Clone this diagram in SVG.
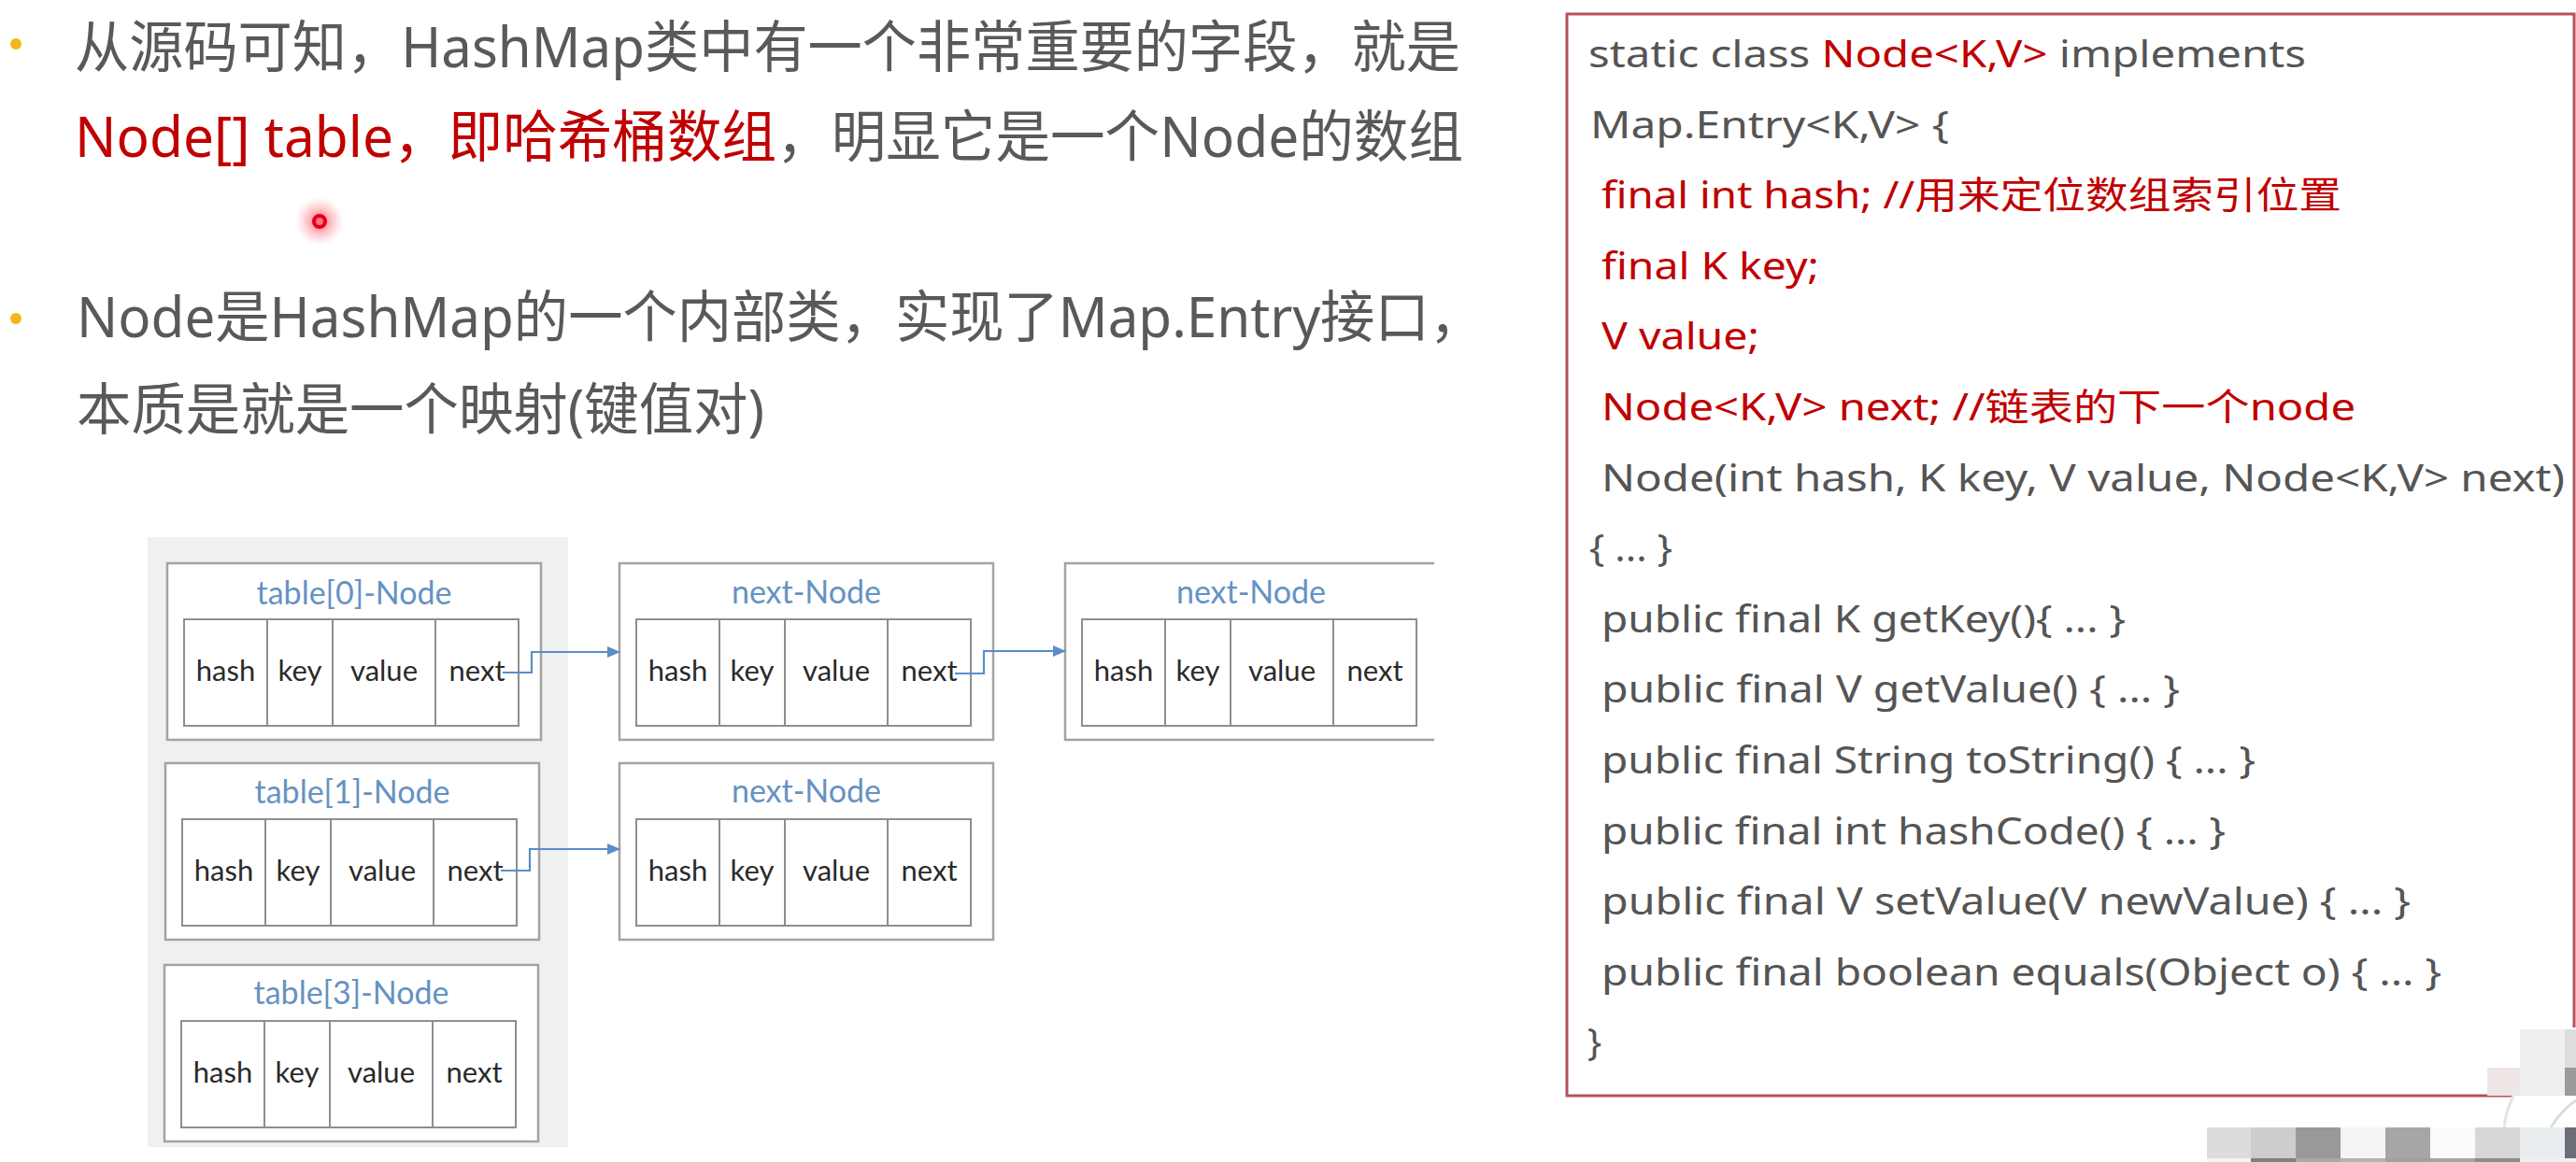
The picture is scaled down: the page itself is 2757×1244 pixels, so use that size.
<svg xmlns="http://www.w3.org/2000/svg" width="2757" height="1244" viewBox="0 0 2757 1244">
<style>
.t{font-family:"Noto Sans","Noto Sans CJK SC",sans-serif;font-size:60px;fill:#595959}
.code{font-family:"Noto Sans","Noto Sans CJK SC",sans-serif;font-size:40px;fill:#555555}
.r,.code.r{fill:#c00000}
.panel{fill:#f0f0f0}
.outer{fill:#fff;stroke:#a3a3a3;stroke-width:2.5}
.inner{fill:#fff;stroke:#8e8e8e;stroke-width:2}
.dv{stroke:#8e8e8e;stroke-width:2}
.ttl{font-family:Lato,"Liberation Sans",sans-serif;font-size:34px;fill:#6592c3;text-anchor:middle}
.cell{font-family:Lato,"Liberation Sans",sans-serif;font-size:31px;fill:#2a2a2a;text-anchor:middle}
.conn{fill:none;stroke:#5b8cc8;stroke-width:2.2}
.bul{fill:#f3b71a}
</style>
<defs>
<marker id="ah" markerUnits="userSpaceOnUse" markerWidth="14" markerHeight="12" refX="13" refY="6" orient="auto">
<path d="M0,0 L14,6 L0,12 z" fill="#5b8cc8"/>
</marker>
<radialGradient id="glow">
<stop offset="0" stop-color="#ff1030" stop-opacity="0.9"/>
<stop offset="0.35" stop-color="#ff4050" stop-opacity="0.45"/>
<stop offset="1" stop-color="#ff8090" stop-opacity="0"/>
</radialGradient>
<g id="row">
<rect class="inner" x="18" y="60" width="358" height="114"/>
<line class="dv" x1="107" y1="60" x2="107" y2="174"/>
<line class="dv" x1="177" y1="60" x2="177" y2="174"/>
<line class="dv" x1="287" y1="60" x2="287" y2="174"/>
<text class="cell" x="62.5" y="126">hash</text>
<text class="cell" x="142" y="126">key</text>
<text class="cell" x="232" y="126">value</text>
<text class="cell" x="331.5" y="126">next</text>
</g>
</defs>
<rect width="2757" height="1244" fill="#ffffff"/>

<g id="bullets">
<circle class="bul" cx="17" cy="47" r="6"/>
<circle class="bul" cx="17" cy="341" r="6"/>
</g>
<g id="intro">
<text class="t" x="80" y="72" textLength="1483" lengthAdjust="spacingAndGlyphs">从源码可知，HashMap类中有一个非常重要的字段，就是</text>
<text class="t" x="80" y="168" textLength="1486" lengthAdjust="spacingAndGlyphs"><tspan class="r">Node[] table，即哈希桶数组</tspan>，明显它是一个Node的数组</text>
<text class="t" x="82" y="361" textLength="1506" lengthAdjust="spacingAndGlyphs">Node是HashMap的一个内部类，实现了Map.Entry接口，</text>
<text class="t" x="82" y="460" textLength="736" lengthAdjust="spacingAndGlyphs">本质是就是一个映射(键值对)</text>
</g>
<g id="pointer">
<circle cx="342" cy="237" r="26" fill="url(#glow)"/>
<circle cx="342" cy="237" r="6" fill="#ff7080" stroke="#e0001e" stroke-width="4"/>
</g>

<rect id="table-panel" class="panel" x="158" y="575" width="450" height="653"/>

<g id="table0-node" transform="translate(179,603)">
<rect class="outer" x="0" y="0" width="400" height="189"/>
<text class="ttl" x="200" y="44">table[0]-Node</text>
<use href="#row"/>
</g>
<g id="table1-node" transform="translate(177,817)">
<rect class="outer" x="0" y="0" width="400" height="189"/>
<text class="ttl" x="200" y="43">table[1]-Node</text>
<use href="#row"/>
</g>
<g id="table3-node" transform="translate(176,1033)">
<rect class="outer" x="0" y="0" width="400" height="189"/>
<text class="ttl" x="200" y="42">table[3]-Node</text>
<use href="#row"/>
</g>
<g id="next-node-1" transform="translate(663,603)">
<rect class="outer" x="0" y="0" width="400" height="189"/>
<text class="ttl" x="200" y="43">next-Node</text>
<use href="#row"/>
</g>
<g id="next-node-2" transform="translate(663,817)">
<rect class="outer" x="0" y="0" width="400" height="189"/>
<text class="ttl" x="200" y="42">next-Node</text>
<use href="#row"/>
</g>
<g id="next-node-3" transform="translate(1140,603)">
<path class="outer" fill="none" d="M395,0 H0 V189 H395"/>
<text class="ttl" x="199" y="43">next-Node</text>
<use href="#row"/>
</g>

<g id="connectors">
<path class="conn" d="M538,720 H569 V698 H663" marker-end="url(#ah)"/>
<path class="conn" d="M536,932 H567 V909 H663" marker-end="url(#ah)"/>
<path class="conn" d="M1022,721 H1053 V697 H1140" marker-end="url(#ah)"/>
</g>

<g id="code-box">
<rect x="1677" y="15" width="1078" height="1158" fill="#ffffff"/>
<path d="M2688,1173 H1677 V15 H2755 V1100" fill="none" stroke="#b3525a" stroke-width="3"/>
<text class="code" x="1700" y="72" textLength="768" lengthAdjust="spacingAndGlyphs">static class <tspan class="r">Node&lt;K,V&gt;</tspan> implements</text>
<text class="code" x="1702" y="147.6" textLength="384" lengthAdjust="spacingAndGlyphs">Map.Entry&lt;K,V&gt; {</text>
<text class="code r" x="1714" y="223.2" textLength="792" lengthAdjust="spacingAndGlyphs">final int hash; //用来定位数组索引位置</text>
<text class="code r" x="1714" y="298.8" textLength="233" lengthAdjust="spacingAndGlyphs">final K key;</text>
<text class="code r" x="1714" y="374.4" textLength="169" lengthAdjust="spacingAndGlyphs">V value;</text>
<text class="code r" x="1714" y="450" textLength="807" lengthAdjust="spacingAndGlyphs">Node&lt;K,V&gt; next; //链表的下一个node</text>
<text class="code" x="1714" y="525.6" textLength="1031" lengthAdjust="spacingAndGlyphs">Node(int hash, K key, V value, Node&lt;K,V&gt; next)</text>
<text class="code" x="1701" y="601.2" textLength="89" lengthAdjust="spacingAndGlyphs">{ ... }</text>
<text class="code" x="1714" y="676.8" textLength="561" lengthAdjust="spacingAndGlyphs">public final K getKey(){ ... }</text>
<text class="code" x="1714" y="752.4" textLength="619" lengthAdjust="spacingAndGlyphs">public final V getValue() { ... }</text>
<text class="code" x="1714" y="828" textLength="700" lengthAdjust="spacingAndGlyphs">public final String toString() { ... }</text>
<text class="code" x="1714" y="903.6" textLength="668" lengthAdjust="spacingAndGlyphs">public final int hashCode() { ... }</text>
<text class="code" x="1714" y="979.2" textLength="866" lengthAdjust="spacingAndGlyphs">public final V setValue(V newValue) { ... }</text>
<text class="code" x="1714" y="1054.8" textLength="899" lengthAdjust="spacingAndGlyphs">public final boolean equals(Object o) { ... }</text>
<text class="code" x="1699" y="1130.4">}</text>
</g>

<g id="mosaic">
<rect x="2697" y="1102" width="48" height="41" fill="#efefef"/>
<rect x="2745" y="1102" width="12" height="41" fill="#dddddd"/>
<rect x="2662" y="1143" width="35" height="30" fill="#efe6e6"/>
<rect x="2697" y="1143" width="48" height="30" fill="#eeeeee"/>
<rect x="2745" y="1143" width="12" height="30" fill="#9a9a9a"/>
<path d="M2690,1173 Q2682,1190 2680,1207" fill="none" stroke="#e4e4e4" stroke-width="3"/>
<path d="M2730,1207 Q2742,1188 2757,1178" fill="none" stroke="#dcdcdc" stroke-width="3"/>
<rect x="2362" y="1207" width="47" height="33" fill="#dcdcdc"/>
<rect x="2409" y="1207" width="48" height="33" fill="#cdcdcd"/>
<rect x="2457" y="1207" width="48" height="33" fill="#999999"/>
<rect x="2505" y="1207" width="48" height="33" fill="#f6f3f3"/>
<rect x="2553" y="1207" width="48" height="33" fill="#a6a6a6"/>
<rect x="2601" y="1207" width="48" height="33" fill="#fbfbfb"/>
<rect x="2649" y="1207" width="48" height="33" fill="#d7d7d7"/>
<rect x="2697" y="1207" width="48" height="33" fill="#e9edf0"/>
<rect x="2745" y="1207" width="12" height="33" fill="#6b6e77"/>
<rect x="2362" y="1240" width="47" height="4" fill="#f3f3f3"/>
<rect x="2409" y="1240" width="48" height="4" fill="#7f7f7f"/>
<rect x="2457" y="1240" width="48" height="4" fill="#a9a9a9"/>
<rect x="2505" y="1240" width="48" height="4" fill="#b4b4b4"/>
<rect x="2553" y="1240" width="48" height="4" fill="#a0a0a0"/>
<rect x="2601" y="1240" width="48" height="4" fill="#a5a5a5"/>
<rect x="2649" y="1240" width="48" height="4" fill="#8c8c8c"/>
<rect x="2697" y="1240" width="60" height="4" fill="#f0f0f0"/>
</g>
</svg>
